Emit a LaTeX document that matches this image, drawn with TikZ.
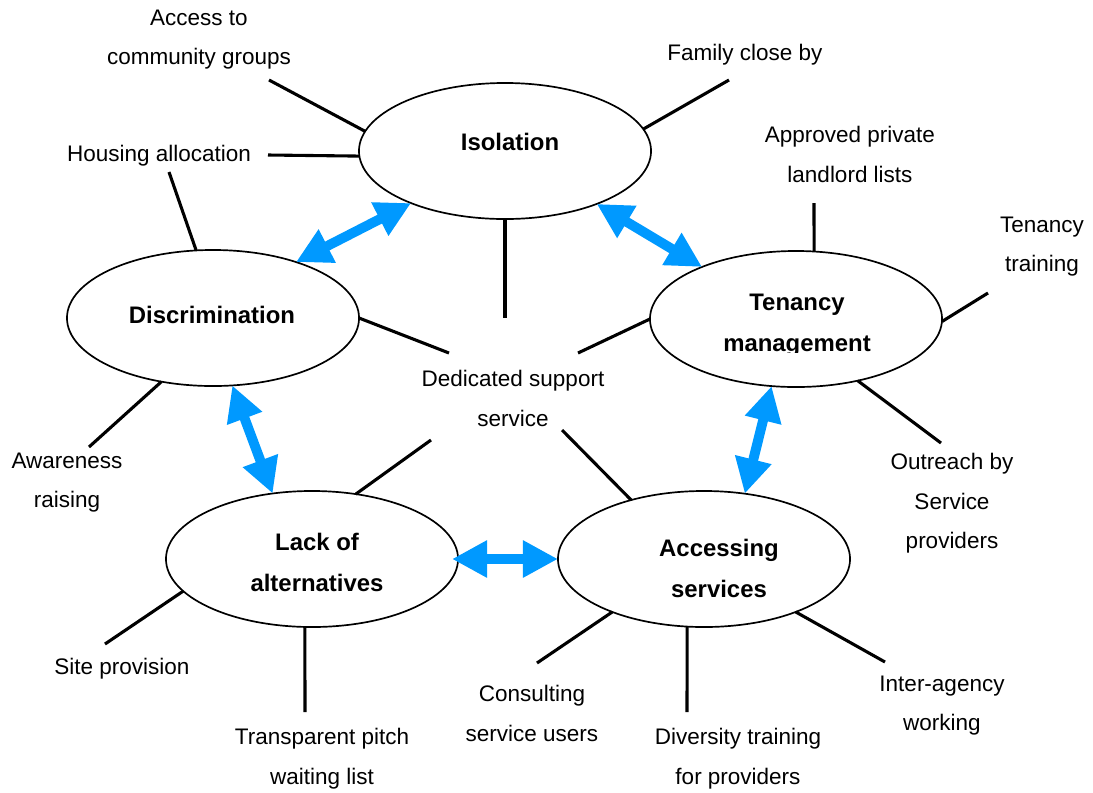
\documentclass[tikz,border=0pt]{standalone}
\usepackage{fontspec}
\setmainfont{Liberation Sans}
\usetikzlibrary{shapes.geometric,arrows.meta}

\definecolor{linkblue}{RGB}{0,153,255}

\tikzset{
  topic/.style={ellipse, draw, fill=white, line width=1.2pt, minimum width=7.3cm, minimum height=3.4cm, inner sep=0pt, outer sep=0pt},
  topicname/.style={align=center, inner sep=0pt, yshift=-1.5pt, font=\fontsize{17}{29}\selectfont\bfseries},
  factor/.style={align=center, inner sep=0pt, yshift=-1.8pt, font=\fontsize{16}{28}\selectfont},
  spoke/.style={line width=2.2pt},
  link/.style={linkblue, line width=7pt, {Triangle[width=25pt,length=25pt]}-{Triangle[width=25pt,length=25pt]}},
}

\begin{document}
\begin{tikzpicture}[x=0.025cm, y=-0.025cm]
  \useasboundingbox (0,0) rectangle (1093,792);

  % Free ends of the spokes
  \coordinate (AccessEnd) at (269,80);
  \coordinate (HousingEnd) at (268,155);
  \coordinate (HousingEndB) at (169,172);
  \coordinate (FamilyEnd) at (729,80);
  \coordinate (LandlordEnd) at (814,203);
  \coordinate (TrainingEnd) at (988,293);
  \coordinate (OutreachEnd) at (941,443);
  \coordinate (InterEnd) at (885,662);
  \coordinate (DiversityEnd) at (687,712);
  \coordinate (ConsultEnd) at (537,663);
  \coordinate (PitchEnd) at (305,712);
  \coordinate (SiteEnd) at (105,644);
  \coordinate (AwareEnd) at (89,447);
  \coordinate (SupportEndA) at (505,318);
  \coordinate (SupportEndB) at (449,353);
  \coordinate (SupportEndC) at (578,353);
  \coordinate (SupportEndD) at (431,440);
  \coordinate (SupportEndE) at (562,430);

  % Topics
  \node [topic] (Isolation) at (505,151) {};
  \node [topic] (Discrimination) at (213,318) {};
  \node [topic] (Tenancy) at (796,319) {};
  \node [topic] (Lack) at (312,559) {};
  \node [topic] (Accessing) at (704,559) {};

  \node [topicname] (IsolationName) at (510,140) {Isolation};
  \node [topicname] (DiscriminationName) at (212,313) {Discrimination};
  \begin{scope}
    \clip (640,240) rectangle (950,352);
    \node [topicname] (TenancyName) at (797,323) {Tenancy\\management};
  \end{scope}
  \node [topicname] (LackName) at (317,560) {Lack of\\alternatives};
  \node [topicname] (AccessingName) at (719,566) {Accessing\\services};

  % Factors
  \node [factor] (AccessGroups) at (199,37) {Access to\\community groups};
  \node [factor] (HousingAlloc) at (159,153) {Housing allocation};
  \node [factor] (FamilyClose) at (745,52) {Family close by};
  \node [factor] (LandlordLists) at (850,152) {Approved private\\landlord lists};
  \node [factor] (TenancyTraining) at (1042,244) {Tenancy\\training};
  \node [factor] (Outreach) at (952,501) {Outreach by\\Service\\providers};
  \node [factor] (InterAgency) at (942,703) {Inter-agency\\working};
  \node [factor] (DiversityTraining) at (738,756) {Diversity training\\for providers};
  \node [factor] (Consulting) at (532,711) {Consulting\\service users};
  \node [factor] (PitchList) at (322,756) {Transparent pitch\\waiting list};
  \node [factor] (SiteProvision) at (122,666) {Site provision};
  \node [factor] (Awareness) at (67,480) {Awareness\\raising};
  \node [factor] (Support) at (513,396) {Dedicated support\\service};

  % Spokes
  \draw [spoke] (Isolation.172) -- (AccessEnd) ;
  \draw [spoke] (Isolation.182) -- (HousingEnd) ;
  \draw [spoke] (Discrimination.104) -- (HousingEndB) ;
  \draw [spoke] (Isolation.9) -- (FamilyEnd) ;
  \draw [spoke] (Tenancy.75) -- (LandlordEnd) ;
  \draw [spoke] (Tenancy.359) -- (TrainingEnd) ;
  \draw [spoke] (Tenancy.315) -- (OutreachEnd) ;
  \draw [spoke] (Accessing.330) -- (InterEnd) ;
  \draw [spoke] (Accessing.256) -- (DiversityEnd) ;
  \draw [spoke] (Accessing.210) -- (ConsultEnd) ;
  \draw [spoke] (Lack.264) -- (PitchEnd) ;
  \draw [spoke] (Lack.194) -- (SiteEnd) ;
  \draw [spoke] (Discrimination.231) -- (AwareEnd) ;
  \draw [spoke] (Isolation.270) -- (SupportEndA) ;
  \draw [spoke] (Discrimination.0) -- (SupportEndB) ;
  \draw [spoke] (Tenancy.180) -- (SupportEndC) ;
  \draw [spoke] (Lack.56) -- (SupportEndD) ;
  \draw [spoke] (Accessing.141) -- (SupportEndE) ;

  % Links between topics
  \draw [link] (Isolation.209) -- (Discrimination.34) ;
  \draw [link] (Isolation.330) -- (Tenancy.151) ;
  \draw [link] (Discrimination.286) -- (Lack.121) ;
  \draw [link] (Tenancy.250) -- (Accessing.58) ;
  \draw [link] ([xshift=-0.15cm]Lack.0) -- (Accessing.180) ;
\end{tikzpicture}
\end{document}
